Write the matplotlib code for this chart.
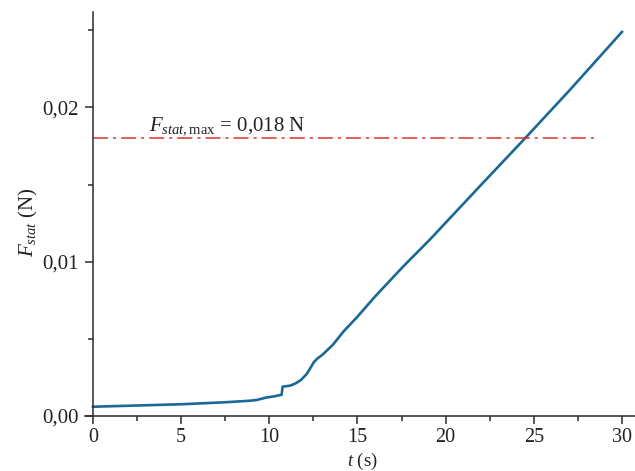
import matplotlib
matplotlib.use("Agg")
import matplotlib.pyplot as plt
from matplotlib.ticker import FuncFormatter, MultipleLocator

plt.rcParams["font.family"] = ["Liberation Serif", "DejaVu Serif"]
plt.rcParams["mathtext.fontset"] = "custom"
plt.rcParams["mathtext.rm"] = "Liberation Serif"
plt.rcParams["mathtext.it"] = "Liberation Serif:italic"

time_s = [0, 2.5, 5, 7.5, 8.9, 9.3, 9.8, 10.3, 10.7, 10.75, 11.2, 11.5, 11.8,
          12.1, 12.3, 12.5, 12.7, 13.0, 13.6, 14.2, 15.0, 16.0, 17.6, 19.1,
          22.0, 24.5, 27.0, 30.0]
f_stat = [0.00060, 0.00068, 0.00076, 0.00089, 0.00099, 0.00104, 0.00119,
          0.00128, 0.00138, 0.00190, 0.00197, 0.00212, 0.00234, 0.00270,
          0.00305, 0.00345, 0.00370, 0.00396, 0.00461, 0.00547, 0.00644,
          0.00775, 0.00970, 0.01143, 0.01497, 0.01800, 0.02108, 0.02490]

f_max = 0.018
f_max_span = [0, 28.7]

ink = "#2b2b2b"

fig = plt.figure(figsize=(6.35, 4.71), dpi=100)
ax = fig.add_axes([0.134, 0.1168, 0.866, 0.8577])

ax.plot(time_s, f_stat, color="#1a6896", lw=1.9, solid_joinstyle="round")
ax.plot(f_max_span, [f_max, f_max], color="#e2302c", lw=1.1,
        dashes=(9.8, 3.3, 2, 3.3))

ax.text(3.2, 0.01855, r"$F_{stat,\mathrm{max}}$ = 0,018 N", fontsize=15,
        color="#222222", ha="left", va="baseline")

ax.set_xlim(-0.45, 30.74)
ax.set_ylim(0, 0.02619)

ax.spines["top"].set_visible(False)
ax.spines["right"].set_visible(False)
ax.spines["left"].set_position(("data", 0))
for s in ("left", "bottom"):
    ax.spines[s].set_color(ink)
    ax.spines[s].set_linewidth(1.1)

ax.xaxis.set_major_locator(MultipleLocator(5))
ax.xaxis.set_minor_locator(MultipleLocator(2.5))
ax.yaxis.set_major_locator(MultipleLocator(0.01))
ax.yaxis.set_minor_locator(MultipleLocator(0.005))
ax.yaxis.set_major_formatter(FuncFormatter(lambda v, p: f"{v:.2f}".replace(".", ",")))

ax.tick_params(which="major", direction="out", length=6, width=1.1, color=ink,
               labelsize=15, labelcolor="#222222")
ax.tick_params(which="minor", direction="out", length=3.5, width=1.1, color=ink)
ax.tick_params(axis="y", pad=4)
ax.tick_params(axis="x", pad=3, labelsize=14.5)

ax.set_ylabel(r"$F_{stat}$ (N)", fontsize=15, color="#222222")
ax.yaxis.set_label_coords(-0.082, 0.48)
ax.set_xlabel(r"$t$ (s)", fontsize=13.5, color="#222222", labelpad=0)
ax.xaxis.set_label_coords(0.504, -0.087)

fig.savefig("out.png", dpi=100)
